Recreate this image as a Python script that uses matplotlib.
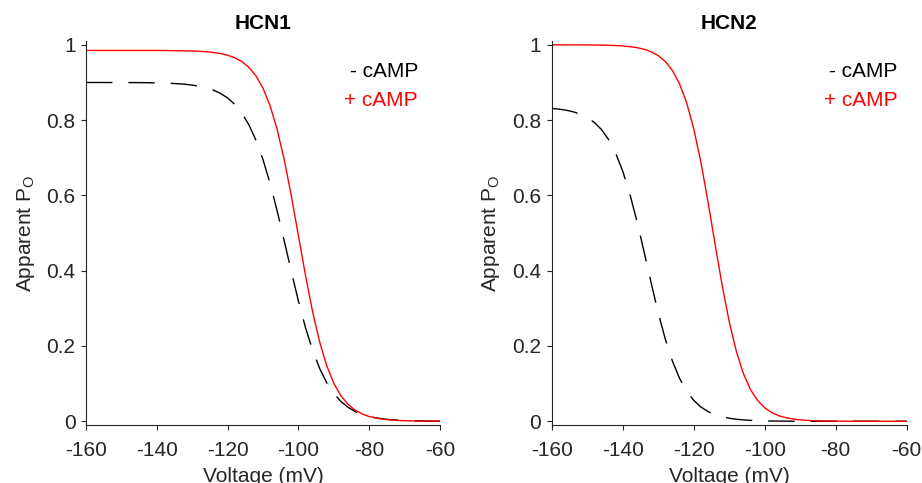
"""
Boltzmann activation curves of HCN1 and HCN2 with and without cAMP.

Output:
    out.png
"""

import matplotlib
matplotlib.use("Agg")
import matplotlib.pyplot as plt
import numpy as np

plt.rcParams["font.family"] = ["Liberation Sans", "DejaVu Sans"]
plt.rcParams["mathtext.fontset"] = "custom"
plt.rcParams["mathtext.rm"] = "Liberation Sans"
plt.rcParams["mathtext.it"] = "Liberation Sans"
plt.rcParams["axes.unicode_minus"] = False

# voltage grid (mV), -160 ... -60 in 2 mV steps
voltage = np.arange(-160, -59, 2)

# apparent open probability
hcn1_no_camp = [
    0.9000, 0.9000, 0.8999, 0.8999, 0.8999, 0.8998, 0.8997, 0.8996, 0.8995, 0.8992,
    0.8989, 0.8984, 0.8977, 0.8966, 0.8952, 0.8930, 0.8900, 0.8857, 0.8796, 0.8709,
    0.8588, 0.8419, 0.8187, 0.7875, 0.7465, 0.6946, 0.6314, 0.5583, 0.4786, 0.3972,
    0.3189, 0.2486, 0.1886, 0.1401, 0.1022, 0.0736, 0.0525, 0.0371, 0.0261, 0.0183,
    0.0128, 0.0090, 0.0062, 0.0043, 0.0030, 0.0021, 0.0015, 0.0010, 0.0007, 0.0005,
    0.0003,
]
hcn1_camp = [
    0.9850, 0.9850, 0.9850, 0.9850, 0.9850, 0.9850, 0.9850, 0.9850, 0.9850, 0.9850,
    0.9850, 0.9850, 0.9845, 0.9844, 0.9841, 0.9836, 0.9828, 0.9816, 0.9797, 0.9768,
    0.9724, 0.9657, 0.9555, 0.9402, 0.9175, 0.8845, 0.8378, 0.7747, 0.6942, 0.5980,
    0.4925, 0.3870, 0.2908, 0.2102, 0.1472, 0.1006, 0.0676, 0.0448, 0.0295, 0.0193,
    0.0126, 0.0082, 0.0053, 0.0035, 0.0022, 0.0015, 0.0009, 0.0006, 0.0004, 0.0003,
    0.0002,
]
hcn2_no_camp = [
    0.8311, 0.8292, 0.8264, 0.8222, 0.8160, 0.8070, 0.7939, 0.7751, 0.7487, 0.7125,
    0.6645, 0.6038, 0.5314, 0.4508, 0.3677, 0.2883, 0.2181, 0.1599, 0.1144, 0.0803,
    0.0556, 0.0381, 0.0259, 0.0176, 0.0119, 0.0080, 0.0054, 0.0036, 0.0024, 0.0016,
    0.0011, 0.0007, 0.0005, 0.0003, 0.0002, 0.0002, 0.0001, 0.0001, 0.0001, 0.0001,
    0.0000, 0.0000, 0.0000, 0.0000, 0.0000, 0.0000, 0.0000, 0.0000, 0.0000, 0.0000,
    0.0000,
]
hcn2_camp = [
    1.0000, 1.0000, 0.9999, 0.9999, 0.9998, 0.9997, 0.9995, 0.9992, 0.9988, 0.9981,
    0.9970, 0.9952, 0.9925, 0.9883, 0.9816, 0.9713, 0.9556, 0.9317, 0.8965, 0.8462,
    0.7773, 0.6890, 0.5844, 0.4715, 0.3617, 0.2645, 0.1858, 0.1266, 0.0842, 0.0552,
    0.0357, 0.0230, 0.0147, 0.0094, 0.0060, 0.0038, 0.0024, 0.0015, 0.0010, 0.0006,
    0.0004, 0.0002, 0.0001, 0.0001, 0.0001, 0.0001, 0.0000, 0.0000, 0.0000, 0.0000,
    0.0000,
]

titles = ["HCN1", "HCN2"]
x_ticks = [-160, -140, -120, -100, -80, -60]
y_ticks = [0, 0.2, 0.4, 0.6, 0.8, 1]
y_tick_labels = ["0", "0.2", "0.4", "0.6", "0.8", "1"]

DARK = "#262626"
FS = 15


def style_axes(ax):
    for side in ["top", "right"]:
        ax.spines[side].set_visible(False)
    for side in ["left", "bottom"]:
        ax.spines[side].set_color(DARK)
        ax.spines[side].set_linewidth(0.8)
    ax.set_xlim(-160, -60)
    ax.set_ylim(-0.01, 1.01)
    ax.set_xticks(x_ticks)
    ax.set_yticks(y_ticks)
    ax.set_yticklabels(y_tick_labels)
    ax.tick_params(direction="out", length=3.5, width=0.8, color=DARK,
                   labelcolor=DARK, labelsize=FS, pad=4)
    ax.tick_params(axis="x", pad=8)


def plot_panel(ax, title, no_camp, camp, legend_x):
    ax.plot(voltage, no_camp, color="black", lw=1.0, dashes=(19, 11.5))
    ax.plot(voltage, camp, color="red", lw=1.0)
    style_axes(ax)
    ax.set_title(title, fontsize=15, fontweight="bold", pad=9)
    ax.set_xlabel("Voltage (mV)", fontsize=FS, color=DARK, labelpad=5)
    ax.set_ylabel(r"Apparent P$_\mathrm{O}$", fontsize=FS, color=DARK, labelpad=7)
    ax.text(legend_x, 0.930, "- cAMP", color="black", fontsize=FS,
            ha="right", va="center")
    ax.text(legend_x, 0.853, "+ cAMP", color="red", fontsize=FS,
            ha="right", va="center")


def main():
    fig = plt.figure(figsize=(9.22, 4.83), dpi=100)
    ax1 = fig.add_axes([0.0933, 0.120, 0.384, 0.795])
    ax2 = fig.add_axes([0.5984, 0.120, 0.385, 0.795])

    plot_panel(ax1, titles[0], hcn1_no_camp, hcn1_camp, -66.2)
    plot_panel(ax2, titles[1], hcn2_no_camp, hcn2_camp, -62.5)

    fig.savefig("out.png", dpi=100)
    plt.close(fig)


if __name__ == "__main__":
    main()
